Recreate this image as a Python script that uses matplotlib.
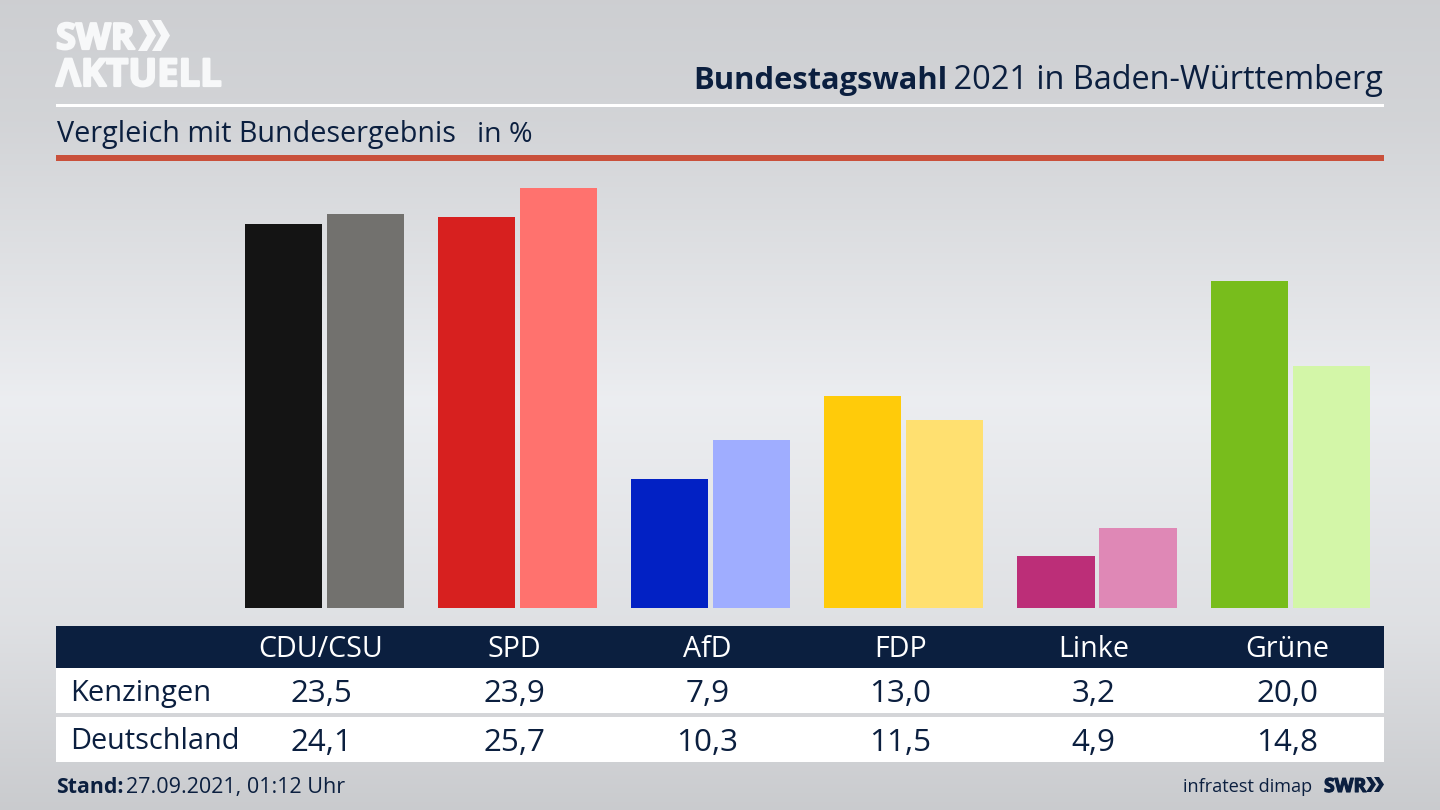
import numpy as np
from matplotlib import pyplot as plt
from matplotlib import patheffects as pe
from matplotlib.patches import Polygon, Rectangle

# values in percent
PARTIES = ['CDU/CSU', 'SPD', 'AfD', 'FDP', 'Linke', 'Grüne']
KENZINGEN = [23.5, 23.9, 7.9, 13.0, 3.2, 20.0]
DEUTSCHLAND = [24.1, 25.7, 10.3, 11.5, 4.9, 14.8]
COLORS_KENZINGEN = ['#141414', '#d7201f', '#0221c4', '#ffcb0a', '#bc2e78', '#78bd1c']
COLORS_DEUTSCHLAND = ['#72716e', '#ff726e', '#9fadff', '#ffe070', '#df88b6', '#d3f6a8']

NAVY = '#0b1f3f'
FONT = 'Open Sans'
W, H = 1440, 810
plt.rcParams['font.family'] = FONT

fig = plt.figure(figsize=(W / 100, H / 100), dpi=100)

# background + everything that is not a bar, in pixel coordinates
bg = fig.add_axes([0, 0, 1, 1], zorder=0)
bg.set_xlim(0, W)
bg.set_ylim(H, 0)
bg.axis('off')

stops_y = [0, 120, 400, 620, 810]
stops_v = [0.805, 0.825, 0.925, 0.875, 0.79]
grad = np.interp(np.arange(H), stops_y, stops_v).reshape(-1, 1)
bg.imshow(np.dstack([grad, grad + 0.006, grad + 0.018]).clip(0, 1), extent=[0, W, H, 0], aspect='auto')

bg.add_patch(Rectangle((56, 104), 1328, 3, color='white', lw=0))
bg.add_patch(Rectangle((56, 155), 1328, 5.5, color='#c9503b', lw=0))
bg.add_patch(Rectangle((56, 626), 1328, 42, color=NAVY, lw=0))
bg.add_patch(Rectangle((56, 668), 1328, 45, color='white', lw=0))
bg.add_patch(Rectangle((56, 717), 1328, 45, color='white', lw=0))


def chevrons(x, y, w, h, gap, color):
    for i in range(2):
        x0 = x + i * gap
        bg.add_patch(Polygon([(x0, y), (x0 + w * 0.5, y), (x0 + w, y + h / 2),
                              (x0 + w * 0.5, y + h), (x0, y + h), (x0 + w * 0.5, y + h / 2)],
                             color=color, lw=0))


# logo top left
heavy = [pe.withStroke(linewidth=1.6, foreground='#f7f8f9')]
bg.text(56, 49, 'SWR', color='#f7f8f9', fontsize=26, fontweight='bold', va='baseline', path_effects=heavy)
chevrons(138, 20, 18, 31, 14, '#f7f8f9')
bg.text(56, 86, 'ΛKTUELL', color='#f7f8f9', fontsize=27.5, fontweight='bold', va='baseline', path_effects=heavy)

# title, bold part placed left of the regular part
t2 = bg.text(1383, 89, ' 2021 in Baden-Württemberg', color=NAVY, fontsize=23.4, ha='right', va='baseline')
fig.canvas.draw()
left = t2.get_window_extent().x0
bg.text(left + 2, 89, 'Bundestagswahl', color=NAVY, fontsize=22.2, fontweight='bold', ha='right', va='baseline')

bg.text(57, 142, 'Vergleich mit Bundesergebnis', color=NAVY, fontsize=20.7, va='baseline')
bg.text(477, 142, 'in %', color=NAVY, fontsize=20.5, va='baseline')

# table
label_x = [321 + 193.2 * i for i in range(len(PARTIES))]
for x, party, a, b in zip(label_x, PARTIES, KENZINGEN, DEUTSCHLAND):
    bg.text(x, 657, party, color='white', fontsize=20.6, ha='center', va='baseline')
    bg.text(x, 702, f'{a:.1f}'.replace('.', ','), color=NAVY, fontsize=22.6, ha='center', va='baseline')
    bg.text(x, 751, f'{b:.1f}'.replace('.', ','), color=NAVY, fontsize=22.6, ha='center', va='baseline')
bg.text(70, 701, 'Kenzingen', color=NAVY, fontsize=21, va='baseline')
bg.text(70, 749, 'Deutschland', color=NAVY, fontsize=20.8, va='baseline')

# footer
bg.text(56, 793, 'Stand:', color=NAVY, fontsize=15.3, fontweight='bold', va='baseline')
bg.text(126, 793, '27.09.2021, 01:12 Uhr', color=NAVY, fontsize=15.5, va='baseline')
bg.text(1312, 792, 'infratest dimap', color=NAVY, fontsize=13.1, ha='right', va='baseline')
bg.text(1324, 792, 'SWR', color=NAVY, fontsize=14, fontweight='bold', va='baseline',
        path_effects=[pe.withStroke(linewidth=0.8, foreground=NAVY)])
chevrons(1366, 777, 10, 15, 8, NAVY)

# bars, axes spans x 56..1384 px and y 608..160 px
ax = fig.add_axes([56 / W, (H - 608) / H, 1328 / W, 448 / H], zorder=1)
ax.patch.set_alpha(0)
ax.axis('off')
ax.set_xlim((56 - 324.2) / 193.2, (1384 - 324.2) / 193.2)
ax.set_ylim(0, 448 / 16.34)

x = np.arange(len(PARTIES))
ax.bar(x - 0.2122, KENZINGEN, width=0.3986, color=COLORS_KENZINGEN)
ax.bar(x + 0.2122, DEUTSCHLAND, width=0.3986, color=COLORS_DEUTSCHLAND)

fig.savefig('out.png', dpi=100)
